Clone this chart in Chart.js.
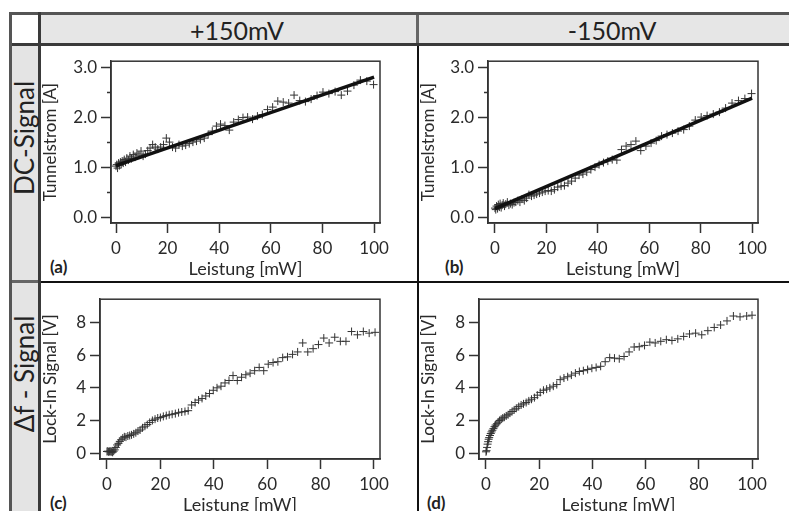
<!DOCTYPE html>
<html>
<head>
<meta charset="utf-8">
<script src="https://cdn.jsdelivr.net/npm/chart.js@4/dist/chart.umd.min.js"></script>
<style>
html,body{margin:0;padding:0;background:#fff;overflow:hidden;width:789px;height:511px;}
#wrap{position:relative;width:789px;height:511px;overflow:hidden;font-family:Lato,"Open Sans",sans-serif;}
.ln{position:absolute;}
.txt{position:absolute;color:#222;white-space:nowrap;line-height:1;}
canvas{position:absolute;}
</style>
</head>
<body>
<div id="wrap">
  <!-- table fills -->
  <div class="ln" style="left:12px;top:15px;width:26px;height:28px;background:#fff"></div>
  <div class="ln" style="left:41px;top:15px;width:748px;height:28px;background:#e6e6e6"></div>
  <div class="ln" style="left:12px;top:46px;width:26px;height:465px;background:#e4e4e4"></div>
  <!-- table lines -->
  <div class="ln" style="left:9px;top:12px;width:780px;height:3px;background:#555"></div>
  <div class="ln" style="left:9px;top:43px;width:780px;height:3px;background:#3a3a3a"></div>
  <div class="ln" style="left:9px;top:12px;width:3px;height:499px;background:#555"></div>
  <div class="ln" style="left:38px;top:12px;width:3px;height:499px;background:#3a3a3a"></div>
  <div class="ln" style="left:416px;top:15px;width:3px;height:28px;background:#666"></div>
  <div class="ln" style="left:417px;top:46px;width:2px;height:465px;background:#111"></div>
  <div class="ln" style="left:12px;top:280px;width:26px;height:3px;background:#666"></div>
  <div class="ln" style="left:41px;top:281px;width:748px;height:2px;background:#111"></div>
  <!-- headers -->
  <div class="txt" id="h1" style="left:237px;top:30px;font-size:25px;transform:translate(-50%,-50%)"></div>
  <div class="txt" id="h2" style="left:612px;top:30px;font-size:25px;transform:translate(-50%,-50%)"></div>
  <div class="txt" id="r1" style="left:24px;top:138px;font-size:26px;transform:translate(-50%,-50%) rotate(-90deg)"></div>
  <div class="txt" id="r2" style="left:24px;top:374px;font-size:26px;transform:translate(-50%,-50%) rotate(-90deg)"></div>
  <!-- panel letters -->
  <div class="txt" id="pa" style="left:50px;top:258px;font-size:17px;font-weight:bold"></div>
  <div class="txt" id="pb" style="left:445px;top:258px;font-size:17px;font-weight:bold"></div>
  <div class="txt" id="pc" style="left:50px;top:494px;font-size:17px;font-weight:bold"></div>
  <div class="txt" id="pd" style="left:427px;top:494px;font-size:17px;font-weight:bold"></div>

  <canvas id="ca" width="370" height="232" style="left:42px;top:47px"></canvas>
  <canvas id="cb" width="369" height="232" style="left:420px;top:47px"></canvas>
  <canvas id="cc" width="370" height="230" style="left:42px;top:285px"></canvas>
  <canvas id="cd" width="369" height="230" style="left:420px;top:285px"></canvas>
</div>
<script>
// ---------- text ----------
const columnHeaders = ['+150mV', '-150mV'];
const rowHeaders = ['DC-Signal', '\u0394f - Signal'];
const panelLetters = ['(a)', '(b)', '(c)', '(d)'];
const xTitle = 'Leistung [mW]';
const yTitleDC = 'Tunnelstrom [A]';
const yTitleLI = 'Lock-In Signal [V]';

// ---------- ticks ----------
const xTicks = [0, 20, 40, 60, 80, 100];
const yTicksDC = [0, 1, 2, 3];
const yTickLabelsDC = ['0.0', '1.0', '2.0', '3.0'];
const yMinorDC = [0.5, 1.5, 2.5];
const yTicksLI = [0, 2, 4, 6, 8];

// ---------- (a) DC signal, +150 mV ----------
const powerA = [0,0.3,0.6,1,1.3,1.7,2,2.4,2.8,3.2,3.7,4.2,4.8,5.4,6,6.7,7.4,8.1,8.9,9.7,10.5,11.4,12.3,13.2,14.2,15.2,16.2,17.3,18.4,19.5,20.7,21.9,23.1,24.4,25.7,27,28.4,29.8,31.2,32.7,34.2,35.7,37.3,38.9,40.5,42.2,43.9,45.6,47.4,49.2,51,52.9,54.8,56.7,58.7,60.7,62.7,64.8,66.9,69,71.2,73.4,75.6,77.9,80.2,82.5,84.9,87.3,89.7,92.2,94.7,97.2,99.8];
const currentA = [1.02,1.05,0.98,1.08,1.03,1.1,1.06,1.12,1.08,1.15,1.1,1.18,1.14,1.22,1.17,1.25,1.2,1.28,1.24,1.32,1.22,1.26,1.33,1.38,1.45,1.4,1.36,1.4,1.45,1.58,1.5,1.4,1.38,1.45,1.42,1.44,1.47,1.5,1.52,1.55,1.58,1.65,1.72,1.82,1.86,1.83,1.74,1.9,1.95,1.99,2.0,1.96,2.02,2.05,2.15,2.2,2.32,2.3,2.28,2.44,2.33,2.31,2.36,2.43,2.5,2.47,2.51,2.44,2.52,2.64,2.74,2.72,2.65];
const fitX = [0, 100];
const fitA = [1.03, 2.80];

// ---------- (b) DC signal, -150 mV ----------
const powerB = [0,0.3,0.6,1,1.3,1.7,2,2.4,2.8,3.2,3.7,4.2,4.8,5.4,6,6.7,7.4,8.1,8.9,9.7,10.5,11.4,12.3,13.2,14.2,15.2,16.2,17.3,18.4,19.5,20.7,21.9,23.1,24.4,25.7,27,28.4,29.8,31.2,32.7,34.2,35.7,37.3,38.9,40.5,42.2,43.9,45.6,47.4,49.2,51,52.9,54.8,56.7,58.7,60.7,62.7,64.8,66.9,69,71.2,73.4,75.6,77.9,80.2,82.5,84.9,87.3,89.7,92.2,94.7,97.2,99.8];
const currentB = [0.18,0.15,0.22,0.17,0.25,0.2,0.27,0.19,0.24,0.28,0.22,0.26,0.3,0.24,0.27,0.25,0.29,0.3,0.33,0.3,0.36,0.33,0.38,0.45,0.42,0.44,0.46,0.48,0.5,0.52,0.53,0.52,0.55,0.6,0.62,0.63,0.68,0.72,0.78,0.84,0.86,0.9,0.95,1.0,1.05,1.09,1.12,1.15,1.14,1.35,1.42,1.45,1.52,1.33,1.42,1.48,1.53,1.62,1.65,1.68,1.72,1.75,1.82,1.94,2.0,2.03,2.06,2.1,2.18,2.28,2.33,2.37,2.47];
const fitB = [0.17, 2.38];

// ---------- (c) lock-in, +150 mV ----------
const powerC = [0,0.3,0.6,0.9,1.2,1.5,1.8,2.1,2.5,2.9,3.3,3.8,4.3,4.8,5.3,5.9,6.5,7.1,7.8,8.5,9.2,10,10.8,11.6,12.4,13.3,14.2,15.1,16,17,18,19,20,21.1,22.2,23.3,24.4,25.6,26.8,28,29.2,30.4,31.7,33,34.3,35.6,37,38.4,39.8,41.2,42.7,44.2,45.7,47.2,48.8,50.4,52,53.6,55.3,57,58.7,60.4,62.2,64,65.8,67.6,69.5,71.4,73.3,75.2,77.2,79.2,81.2,83.2,85.3,87.4,89.5,91.6,93.8,96,98.2,100.4];
const lockinC = [0.1,0.12,0.08,0.1,0.12,0.08,0.1,0.05,0.12,0.2,0.35,0.5,0.6,0.72,0.82,0.92,1.0,0.98,1.05,1.08,1.12,1.18,1.25,1.35,1.42,1.55,1.65,1.75,1.88,2.0,2.08,2.15,2.18,2.25,2.3,2.35,2.38,2.42,2.48,2.52,2.55,2.6,2.95,3.1,3.25,3.35,3.5,3.65,3.85,4.0,4.1,4.3,4.45,4.75,4.45,4.65,4.8,4.9,5.05,5.25,5.05,5.45,5.55,5.6,5.85,5.9,6.05,6.2,6.75,6.2,6.4,6.65,7.05,6.75,7.1,6.85,6.85,7.45,7.25,7.45,7.35,7.4];

// ---------- (d) lock-in, -150 mV ----------
const powerD = [0,0.2,0.4,0.6,0.8,1,1.2,1.5,1.8,2.1,2.4,2.8,3.2,3.6,4.1,4.6,5.1,5.7,6.3,6.9,7.6,8.3,9,9.8,10.6,11.4,12.3,13.2,14.1,15.1,16.1,17.1,18.2,19.3,20.4,21.6,22.8,24,25.3,26.6,27.9,29.3,30.7,32.1,33.6,35.1,36.6,38.2,39.8,41.4,43.1,44.8,46.5,48.3,50.1,51.9,53.8,55.7,57.6,59.6,61.6,63.6,65.7,67.8,69.9,72.1,74.3,76.5,78.8,81.1,83.4,85.8,88.2,90.6,93,95.5,98,100];
const lockinD = [0.08,0.15,0.35,0.55,0.7,0.85,0.95,1.08,1.2,1.3,1.4,1.5,1.62,1.72,1.8,1.9,2.0,2.08,2.15,2.2,2.28,2.35,2.45,2.55,2.65,2.75,2.85,2.95,3.02,3.1,3.2,3.3,3.4,3.55,3.72,3.85,3.92,4.0,4.1,4.2,4.5,4.6,4.68,4.78,4.9,5.0,5.05,5.12,5.2,5.25,5.32,5.6,5.85,5.82,5.78,5.92,6.2,6.5,6.52,6.6,6.8,6.75,6.85,6.95,6.9,7.0,7.15,7.3,7.35,7.25,7.5,7.7,7.85,8.1,8.4,8.35,8.4,8.45];

// ---------- text into DOM ----------
document.getElementById('h1').textContent = columnHeaders[0];
document.getElementById('h2').textContent = columnHeaders[1];
document.getElementById('r1').textContent = rowHeaders[0];
document.getElementById('r2').textContent = rowHeaders[1];
['pa','pb','pc','pd'].forEach((id,i)=>document.getElementById(id).textContent = panelLetters[i]);

const FONT = 'Lato, "Open Sans", sans-serif';
const INK = '#2a2a2a';

const framePlugin = {
  id: 'frame',
  afterDraw(chart, args, opts) {
    const {ctx, chartArea: a, scales} = chart;
    ctx.save();
    ctx.strokeStyle = '#333';
    ctx.lineWidth = 1.5;
    ctx.strokeRect(a.left, a.top, a.right - a.left, a.bottom - a.top);
    (opts.minor || []).forEach(v => {
      const y = Math.round(scales.y.getPixelForValue(v)) + 0.5;
      ctx.beginPath();
      ctx.moveTo(a.left - 4, y);
      ctx.lineTo(a.left, y);
      ctx.stroke();
    });
    ctx.restore();
  }
};

function zip(xs, ys) { return xs.map((x, i) => ({x: x, y: ys[i]})); }

function makeChart(id, cfg) {
  const datasets = [{
    type: 'scatter',
    data: zip(cfg.xs, cfg.ys),
    pointStyle: 'cross',
    pointRadius: 4,
    pointBorderWidth: 1,
    borderColor: '#333',
    backgroundColor: '#333',
    order: 2
  }];
  if (cfg.fit) {
    datasets.push({
      type: 'line',
      data: zip(fitX, cfg.fit),
      borderColor: '#111',
      borderWidth: 3.5,
      pointRadius: 0,
      fill: false,
      order: 1
    });
  }
  new Chart(document.getElementById(id), {
    type: 'scatter',
    data: {datasets: datasets},
    plugins: [framePlugin],
    options: {
      responsive: false,
      animation: false,
      devicePixelRatio: 1,
      layout: {padding: cfg.pad},
      plugins: {legend: {display: false}, tooltip: {enabled: false}, frame: {minor: cfg.minor}},
      scales: {
        x: {
          type: 'linear',
          min: cfg.xmin, max: cfg.xmax,
          afterBuildTicks: s => { s.ticks = xTicks.map(v => ({value: v})); },
          afterFit: s => { s.height = cfg.xh; },
          grid: {drawOnChartArea: false, drawTicks: true, tickLength: 10, tickColor: '#333', tickWidth: 1.5},
          border: {display: true, color: '#333', width: 1.5},
          ticks: {font: {family: FONT, size: 17}, color: INK, padding: 5, maxRotation: 0, autoSkip: false,
                  callback: (v) => String(v)},
          title: {display: true, text: xTitle, font: {family: FONT, size: 18}, color: INK, padding: {top: 0, bottom: -1}}
        },
        y: {
          type: 'linear',
          min: cfg.ymin, max: cfg.ymax,
          afterBuildTicks: s => { s.ticks = cfg.yticks.map(v => ({value: v})); },
          afterFit: s => { s.width = cfg.yw; },
          grid: {drawOnChartArea: false, drawTicks: true, tickLength: 10, tickColor: '#333', tickWidth: 1.5},
          border: {display: true, color: '#333', width: 1.5},
          ticks: {font: {family: FONT, size: 17}, color: INK, padding: 4, autoSkip: false,
                  callback: (v, i) => cfg.ylabels[i]},
          title: {display: true, text: cfg.ytitle, font: {family: FONT, size: 17}, color: INK, padding: {top: -2, bottom: 0}}
        }
      }
    }
  });
}

makeChart('ca', {xs: powerA, ys: currentA, fit: fitA, minor: yMinorDC,
  xmin: -1.94, xmax: 102.3, ymin: -0.118, ymax: 3.118, yticks: yTicksDC, ylabels: yTickLabelsDC,
  ytitle: yTitleDC, pad: {left: 0, top: 12, right: 32, bottom: 0}, yw: 69, xh: 56});
makeChart('cb', {xs: powerB, ys: currentB, fit: fitB, minor: yMinorDC,
  xmin: -2.72, xmax: 102.3, ymin: -0.118, ymax: 3.118, yticks: yTicksDC, ylabels: yTickLabelsDC,
  ytitle: yTitleDC, pad: {left: 0, top: 12, right: 31, bottom: 0}, yw: 68, xh: 56});
makeChart('cc', {xs: powerC, ys: lockinC, fit: null, minor: [],
  xmin: -2.62, xmax: 102.25, ymin: -0.36, ymax: 9.43, yticks: yTicksLI, ylabels: yTicksLI.map(String),
  ytitle: yTitleLI, pad: {left: 0, top: 10, right: 32, bottom: 0}, yw: 58, xh: 56});
makeChart('cd', {xs: powerD, ys: lockinD, fit: null, minor: [],
  xmin: -2.63, xmax: 102.25, ymin: -0.36, ymax: 9.43, yticks: yTicksLI, ylabels: yTicksLI.map(String),
  ytitle: yTitleLI, pad: {left: 0, top: 10, right: 31, bottom: 0}, yw: 59, xh: 56});
</script>
</body>
</html>
